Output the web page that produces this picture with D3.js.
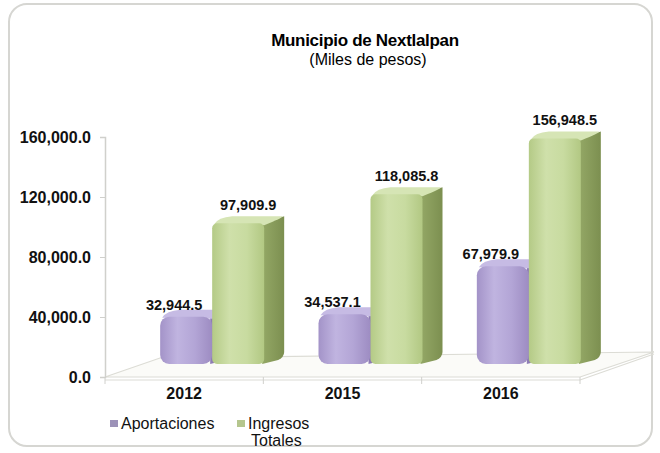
<!DOCTYPE html>
<html>
<head>
<meta charset="utf-8">
<script src="https://cdn.jsdelivr.net/npm/d3@7"></script>
<style>
  body { margin: 0; background: #fff; }
  svg { display: block; font-family: "Liberation Sans", Arial, sans-serif; }
</style>
</head>
<body>
<svg id="chart" width="660" height="453"></svg>
<script>
// data
const years = ["2012", "2015", "2016"];
const aportaciones = [32944.5, 34537.1, 67979.9];
const ingresosTotales = [97909.9, 118085.8, 156948.5];
const seriesNames = ["Aportaciones", "Ingresos", "Totales"];
const yTicks = [0, 40000, 80000, 120000, 160000];

const svg = d3.select("#chart");
const defs = svg.append("defs");

function hGrad(id, stops) {
  const g = defs.append("linearGradient").attr("id", id)
    .attr("x1", 0).attr("x2", 1).attr("y1", 0).attr("y2", 0);
  stops.forEach((c, i) => g.append("stop").attr("offset", i / (stops.length - 1)).attr("stop-color", c));
}
hGrad("greenFront", ["#b4ca86", "#cfe0aa", "#c8dba0", "#b2c883"]);
hGrad("greenSide", ["#94a866", "#7c8f50"]);
hGrad("purpleFront", ["#a393c8", "#c0b4e0", "#b3a5d6", "#9d8cc2"]);
hGrad("purpleSide", ["#8f7eb6", "#7a6aa2"]);

// outer frame
svg.append("rect")
  .attr("x", 9).attr("y", 4).attr("width", 643).attr("height", 442)
  .attr("rx", 18).attr("fill", "#fff")
  .attr("stroke", "#d6d6d2").attr("stroke-width", 2);

// title
svg.append("text").attr("x", 365).attr("y", 46)
  .attr("text-anchor", "middle").attr("font-weight", "bold").attr("font-size", 17)
  .attr("letter-spacing", -0.3)
  .text("Municipio de Nextlalpan");
svg.append("text").attr("x", 368).attr("y", 65)
  .attr("text-anchor", "middle").attr("font-size", 16)
  .text("(Miles de pesos)");

// scales
const x = d3.scaleBand().domain(years).range([105, 580]);
const yAxis = d3.scaleLinear().domain([0, 160000]).range([377, 137]);
const yBar = d3.scaleLinear().domain([0, 160000]).range([364, 134]);

// floor
const floor = svg.append("g").attr("fill", "none").attr("stroke", "#dcdcd5").attr("stroke-width", 1.2);
floor.append("path")
  .attr("d", "M105,377 L580,377 L654,352 L160,358 Z")
  .attr("fill", "#fbfbf8");
floor.append("path").attr("d", "M105,380 L580,380 L654,354");

// y axis
const axisG = svg.append("g")
  .attr("transform", "translate(105,0)")
  .call(d3.axisLeft(yAxis).tickValues(yTicks).tickFormat(d3.format(",.1f")).tickSize(5).tickPadding(9));
axisG.select(".domain").attr("stroke", "#d0d0cc").attr("stroke-width", 1.5);
axisG.selectAll(".tick line").attr("stroke", "#d0d0cc");
axisG.selectAll(".tick text")
  .attr("font-family", "Liberation Sans, Arial, sans-serif")
  .attr("font-size", 16).attr("font-weight", "bold").attr("fill", "#111");

// category axis
const catG = svg.append("g")
  .attr("transform", "translate(0,377)")
  .call(d3.axisBottom(x).tickSize(0).tickPadding(11));
catG.select(".domain").remove();
catG.selectAll(".tick text")
  .attr("font-family", "Liberation Sans, Arial, sans-serif")
  .attr("font-size", 16).attr("font-weight", "bold").attr("fill", "#111");
svg.append("g").selectAll("line")
  .data(x.domain().map(d => x(d)).concat([x.range()[1]]))
  .join("line")
  .attr("x1", d => d).attr("x2", d => d)
  .attr("y1", 377).attr("y2", 384)
  .attr("stroke", "#d0d0cc");

// 3D bars
const barW = 52, depthX = 20, depthY = -7, shift = 28;
const series = [
  { name: "Aportaciones", values: aportaciones, front: "url(#purpleFront)", side: "url(#purpleSide)", top: "#c6bbe4", r: 9, off: -barW },
  { name: "Ingresos Totales", values: ingresosTotales, front: "url(#greenFront)", side: "url(#greenSide)", top: "#d6e5b5", r: 5, off: 0 }
];

const barsG = svg.append("g");
series.forEach(s => {
  years.forEach((yr, i) => {
    const cx = x(yr) + x.bandwidth() / 2 + shift;
    const x0 = cx + s.off;
    const yt = yBar(s.values[i]);
    const yb = yBar(0);
    const g = barsG.append("g");
    // side face
    g.append("path")
      .attr("d", `M${x0 + barW - 2},${yt} L${x0 + barW + depthX},${yt + depthY} L${x0 + barW + depthX},${yb + depthY - s.r}
        Q${x0 + barW + depthX},${yb + depthY} ${x0 + barW + depthX - 6},${yb + depthY + 3} L${x0 + barW - 2},${yb} Z`)
      .attr("fill", s.side);
    // top face
    g.append("path")
      .attr("d", `M${x0 + 2},${yt + 1} Q${x0 + 6},${yt + depthY + 1} ${x0 + depthX},${yt + depthY} L${x0 + barW + depthX - 2},${yt + depthY}
        Q${x0 + barW + depthX},${yt + depthY + 1} ${x0 + barW},${yt + 2} Z`)
      .attr("fill", s.top);
    // front face
    g.append("rect")
      .attr("x", x0).attr("y", yt).attr("width", barW).attr("height", yb - yt)
      .attr("rx", s.r).attr("fill", s.front);
  });
});

// value labels
const fmt = d3.format(",.1f");
years.forEach((yr, i) => {
  const cx = x(yr) + x.bandwidth() / 2 + shift;
  svg.append("text")
    .attr("x", cx - barW / 2 - 12).attr("y", yBar(aportaciones[i]) - 7)
    .attr("text-anchor", "middle").attr("font-size", 14.5).attr("font-weight", "bold").attr("fill", "#111")
    .text(fmt(aportaciones[i]));
  svg.append("text")
    .attr("x", cx + (barW + depthX) / 2).attr("y", yBar(ingresosTotales[i]) - 13)
    .attr("text-anchor", "middle").attr("font-size", 14.5).attr("font-weight", "bold").attr("fill", "#111")
    .text(fmt(ingresosTotales[i]));
});

// legend
const legend = svg.append("g");
legend.append("rect").attr("x", 110).attr("y", 420).attr("width", 8).attr("height", 7).attr("fill", "#9c92b8");
legend.append("text").attr("x", 121).attr("y", 429).attr("font-size", 16).attr("fill", "#111").text(seriesNames[0]);
legend.append("rect").attr("x", 237).attr("y", 420).attr("width", 8).attr("height", 7).attr("fill", "#b5c68e");
legend.append("text").attr("x", 248).attr("y", 429).attr("font-size", 16).attr("fill", "#111").text(seriesNames[1]);
legend.append("text").attr("x", 251).attr("y", 446).attr("font-size", 16).attr("fill", "#111").text(seriesNames[2]);
</script>
</body>
</html>
